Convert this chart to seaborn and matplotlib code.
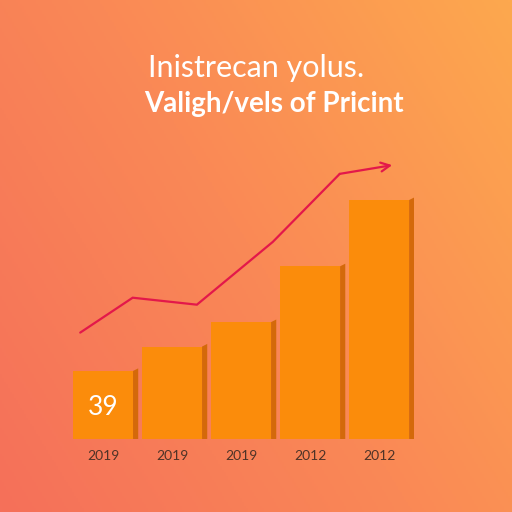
import numpy as np
import pandas as pd
import seaborn as sns
import matplotlib.pyplot as plt
from matplotlib.colors import LinearSegmentedColormap

sns.set_theme(style='white')
plt.rcParams['font.family'] = ['Lato', 'DejaVu Sans']

# data
years = ['2019', '2019', '2019', '2012', '2012']
bar_values = [39, 53, 67, 99, 137]
line_x = [-0.33, 0.43, 1.36, 2.46, 3.43, 4.19]
line_y = [61, 81, 77, 113, 152, 157]
bar_label = '39'
title_1 = 'Inistrecan yolus.'
title_2 = 'Valigh/vels of Pricint'

BAR = '#fb8c0b'
SIDE = '#d4690a'
LINE = '#e3184a'
TICK = '#4e3327'

df = pd.DataFrame({'pos': range(len(bar_values)), 'value': bar_values})

fig = plt.figure(figsize=(5.12, 5.12), dpi=100)

# gradient background
bg = fig.add_axes([0, 0, 1, 1])
xx, yy = np.meshgrid(np.linspace(0, 1, 256), np.linspace(0, 1, 256))
t = np.clip(0.62 * xx + 0.38 * (1 - yy), 0, 1)
cmap = LinearSegmentedColormap.from_list('bg', ['#f5705a', '#fa8956', '#fda84e'])
bg.imshow(t, cmap=cmap, aspect='auto', origin='upper', extent=[0, 1, 0, 1])
bg.axis('off')

ax = fig.add_axes([0.1338, 0.1426, 0.674, 0.5645])
ax.patch.set_alpha(0)
sns.barplot(data=df, x='pos', y='value', color=BAR, saturation=1,
            width=0.87, linewidth=0, ax=ax, zorder=2,
            order=list(range(len(bar_values))))

# right side faces for the 3D look
for p in ax.patches:
    x1 = p.get_x() + p.get_width()
    h = p.get_height()
    ax.fill([x1, x1 + 0.075, x1 + 0.075, x1], [0, 0, h + 1.5, h],
            color=SIDE, lw=0, zorder=2)

ax.plot(line_x[:-1], line_y[:-1], color=LINE, lw=1.6, zorder=3,
        solid_joinstyle='miter')
ax.annotate('', xy=(line_x[-1], line_y[-1]), xytext=(line_x[-2], line_y[-2]),
            arrowprops=dict(arrowstyle='->', color=LINE, lw=1.6,
                            mutation_scale=16, shrinkA=0, shrinkB=0), zorder=3)

ax.text(0, 17.8, bar_label, color='white', fontsize=19, ha='center',
        va='center', zorder=4)

ax.set_xlim(-0.5, 4.5)
ax.set_ylim(0, 165.7)
ax.set_xticks(range(len(years)))
ax.set_xticklabels(years, fontsize=10, color=TICK)
ax.tick_params(axis='x', length=0, pad=8)
ax.set_yticks([])
ax.set_xlabel('')
ax.set_ylabel('')
for sp in ax.spines.values():
    sp.set_visible(False)

fig.text(256 / 512, 1 - 68 / 512, title_1, ha='center', va='center',
         color='white', fontsize=22, fontweight='normal')
fig.text(274 / 512, 1 - 104 / 512, title_2, ha='center', va='center',
         color='white', fontsize=20, fontweight='bold')

fig.savefig('out.png', dpi=100)
